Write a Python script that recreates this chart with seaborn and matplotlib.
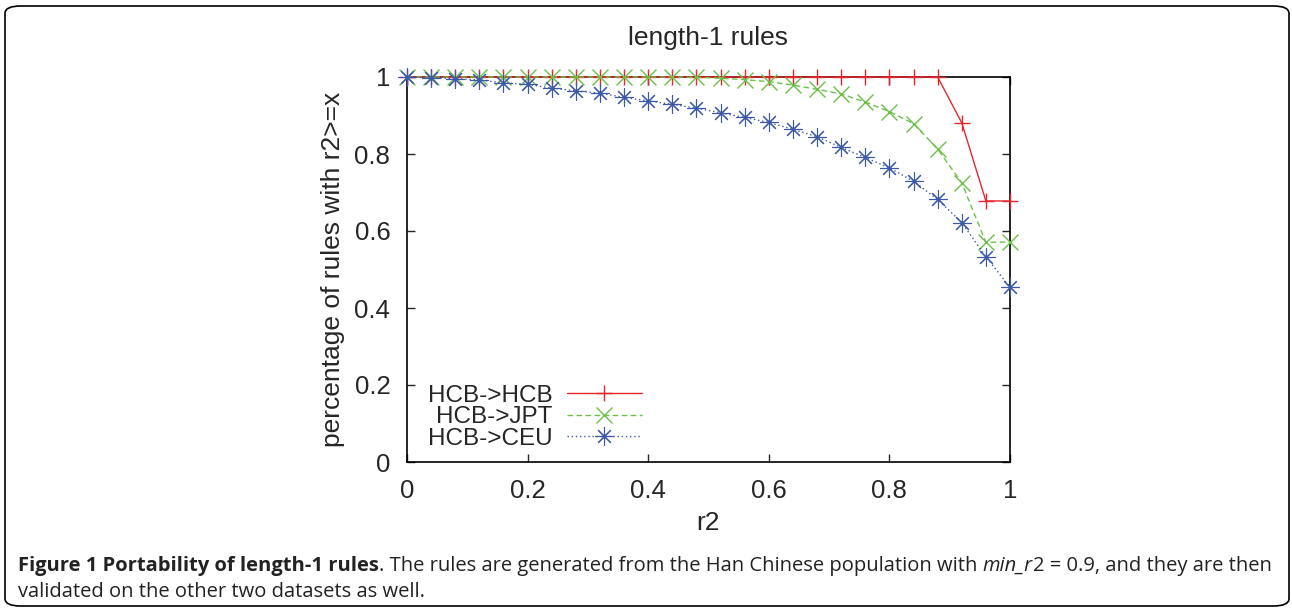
import numpy as np
import pandas as pd
import matplotlib
matplotlib.use("Agg")
import matplotlib.pyplot as plt
import seaborn as sns
from matplotlib.patches import FancyBboxPatch

# r2 thresholds, step 0.04
r2 = [0.00, 0.04, 0.08, 0.12, 0.16, 0.20, 0.24, 0.28, 0.32, 0.36, 0.40, 0.44, 0.48,
      0.52, 0.56, 0.60, 0.64, 0.68, 0.72, 0.76, 0.80, 0.84, 0.88, 0.92, 0.96, 1.00]

hcb_hcb = [1.0, 1.0, 1.0, 1.0, 1.0, 1.0, 1.0, 1.0, 1.0, 1.0, 1.0, 1.0, 1.0,
           1.0, 1.0, 1.0, 1.0, 1.0, 1.0, 1.0, 1.0, 1.0, 1.0, 0.881, 0.678, 0.678]
hcb_jpt = [1.0, 1.0, 1.0, 1.0, 1.0, 1.0, 1.0, 1.0, 1.0, 1.0, 1.0, 1.0, 0.999,
           0.997, 0.993, 0.988, 0.979, 0.968, 0.956, 0.935, 0.910, 0.879, 0.813, 0.725, 0.571, 0.571]
hcb_ceu = [1.0, 0.998, 0.996, 0.992, 0.985, 0.981, 0.971, 0.964, 0.958, 0.947, 0.938, 0.929, 0.919,
           0.907, 0.895, 0.882, 0.864, 0.845, 0.817, 0.791, 0.764, 0.729, 0.682, 0.622, 0.533, 0.454]

series_names = ["HCB->HCB", "HCB->JPT", "HCB->CEU"]
xtick_labels = ["0", "0.2", "0.4", "0.6", "0.8", "1"]
ytick_labels = ["0", "0.2", "0.4", "0.6", "0.8", "1"]

df = pd.DataFrame({
    "r2": r2 * 3,
    "value": hcb_hcb + hcb_jpt + hcb_ceu,
    "series": [s for s in series_names for _ in r2],
})

sns.set_style("ticks")
plt.rcParams["font.family"] = ["Liberation Sans", "DejaVu Sans"]

colors = {"HCB->HCB": "#e8262e", "HCB->JPT": "#6cc04a", "HCB->CEU": "#3c58a8"}
markers = {"HCB->HCB": "+", "HCB->JPT": "x", "HCB->CEU": (8, 2, 0)}
lstyles = {"HCB->HCB": "-", "HCB->JPT": (0, (4, 2.5)), "HCB->CEU": (0, (1, 2))}
msizes = {"HCB->HCB": 12, "HCB->JPT": 11, "HCB->CEU": 13}
mews = {"HCB->HCB": 1.0, "HCB->JPT": 1.0, "HCB->CEU": 0.8}

fig = plt.figure(figsize=(12.92, 6.13), dpi=100)
ax = fig.add_axes([407 / 1292, 1 - 462 / 613, 603 / 1292, 385 / 613])

for name in series_names:
    sub = df[df["series"] == name]
    sns.lineplot(data=sub, x="r2", y="value", ax=ax, color=colors[name],
                 marker=markers[name], markersize=msizes[name], markeredgewidth=mews[name],
                 markeredgecolor=colors[name], linewidth=1.0, label=name,
                 clip_on=False, zorder=3)
for line, name in zip(ax.get_lines(), series_names):
    line.set_linestyle(lstyles[name])

ax.set_xlim(0, 1)
ax.set_ylim(0, 1)
ax.set_xticks(np.linspace(0, 1, 6))
ax.set_xticklabels(xtick_labels)
ax.set_yticks(np.linspace(0, 1, 6))
ax.set_yticklabels(ytick_labels)
ax.tick_params(direction="in", length=6, width=1, labelsize=18.5,
               top=True, right=True, pad=12)
for sp in ax.spines.values():
    sp.set_linewidth(1.2)
    sp.set_color("black")

ax.set_xlabel("r2", fontsize=19, va="center")
ax.xaxis.set_label_coords(0.5, (462 - 523) / 385)
ax.set_ylabel("percentage of rules with r2>=x", fontsize=19, va="center")
ax.yaxis.set_label_coords((333 - 407) / 603, 0.5)
ax.text(0.5, (462 - 38) / 385, "length-1 rules", transform=ax.transAxes,
        fontsize=19, ha="center", va="center")

leg = ax.legend(loc="lower left", bbox_to_anchor=(0.018, 0.006), markerfirst=False,
                frameon=False, fontsize=17.5, handlelength=3.1, handletextpad=0.6,
                labelspacing=-0.02, borderaxespad=0.0, numpoints=1)
for h, name in zip(leg.legend_handles, series_names):
    h.set_linestyle(lstyles[name])

# caption
renderer = fig.canvas.get_renderer()
cap_font = ["Open Sans", "DejaVu Sans"]
cap_size = 14.5
x0 = 18 / 1292
y1 = 1 - 566 / 613
pieces = [("Figure 1 Portability of length-1 rules", "bold", "normal"),
          (". The rules are generated from the Han Chinese population with ", "normal", "normal"),
          ("min_r", "normal", "italic"),
          ("2 = 0.9, and they are then", "normal", "normal")]
xc = x0
for txt, wt, st in pieces:
    t = fig.text(xc, y1, txt, fontsize=cap_size, family=cap_font, fontweight=wt,
                 fontstyle=st, ha="left", va="center", color="#222222")
    bb = t.get_window_extent(renderer=renderer)
    xc += bb.width / fig.bbox.width
fig.text(x0, 1 - 592 / 613, "validated on the other two datasets as well.",
         fontsize=cap_size, family=cap_font, ha="left", va="center", color="#222222")

border = FancyBboxPatch((5 / 1292, 7 / 613), 1284 / 1292, 600 / 613,
                        boxstyle="round,pad=0,rounding_size=0.012",
                        transform=fig.transFigure, fill=False,
                        edgecolor="black", linewidth=1.2)
fig.patches.append(border)

fig.savefig("out.png", dpi=100)
